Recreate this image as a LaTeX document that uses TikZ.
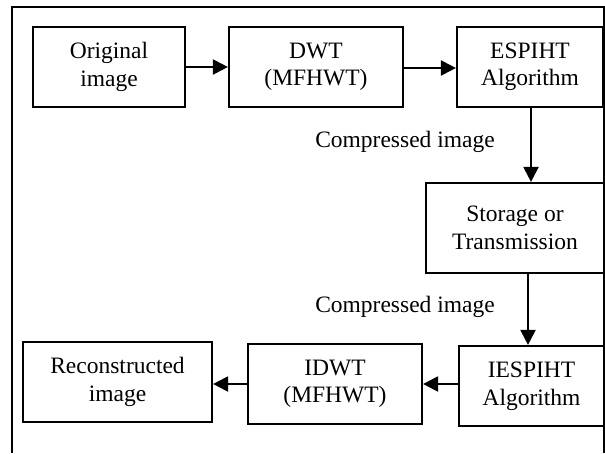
\documentclass[tikz,border=0pt]{standalone}
\usepackage{fontspec}
\setmainfont{Liberation Serif}
\usetikzlibrary{arrows.meta}
\tikzset{
  blk/.style={draw, line width=2.2pt, inner sep=0pt, align=center,
    font=\fontsize{23.5}{27.5}\selectfont},
  lbl/.style={inner sep=0pt, font=\fontsize{23.5}{27}\selectfont},
  conn/.style={line width=2.2pt, -{Triangle[length=15pt,width=15pt]}},
  frame/.style={line width=2.2pt}
}
\begin{document}
\begin{tikzpicture}[x=1pt,y=-1pt]
\useasboundingbox (0,0) rectangle (605,453);
\draw[frame] (12,453) -- (12,7) -- (604,7) -- (604,453);
\node[blk, minimum width=152pt, minimum height=80pt] (orig) at (109,67) {Original\\image};
\node[blk, minimum width=174pt, minimum height=80pt] (dwt) at (316,67) {DWT\\(MFHWT)};
\node[blk, minimum width=146pt, minimum height=80pt] (esp) at (530,67) {ESPIHT\\Algorithm};
\node[blk, minimum width=178pt, minimum height=90pt] (st) at (515,228) {Storage or\\Transmission};
\node[blk, minimum width=145pt, minimum height=80pt] (iesp) at (531.5,386) {IESPIHT\\Algorithm};
\node[blk, minimum width=174pt, minimum height=80pt] (idwt) at (335,384) {IDWT\\(MFHWT)};
\node[blk, minimum width=189pt, minimum height=80pt] (rec) at (117.5,382) {Reconstructed\\image};
\node[lbl] (c1) at (405,142) {Compressed image};
\node[lbl] (c2) at (405,307) {Compressed image};
\coordinate (a1) at (531,107);
\coordinate (a2) at (528,273);
\draw[conn] (orig.east |- 0,67) -- (dwt.west |- 0,67);
\draw[conn] (dwt.east |- 0,68) -- (esp.west |- 0,68);
\draw[conn] (a1) -- (a1 |- st.north);
\draw[conn] (a2) -- (a2 |- iesp.north);
\draw[conn] (iesp.west |- 0,384) -- (idwt.east |- 0,384);
\draw[conn] (idwt.west |- 0,384) -- (rec.east |- 0,384);
\end{tikzpicture}
\end{document}
